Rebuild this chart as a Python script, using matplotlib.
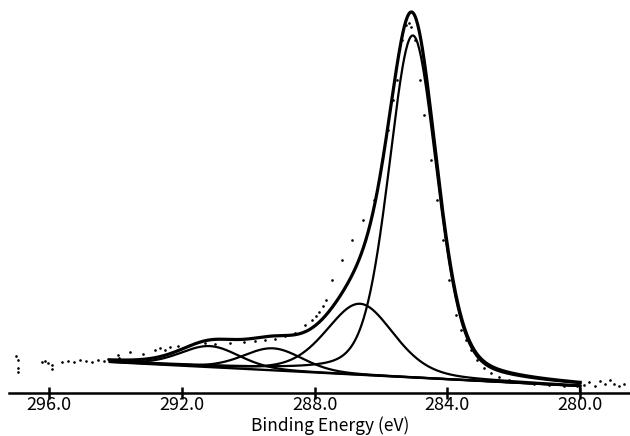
import numpy as np
import matplotlib.pyplot as plt

plt.rcParams['font.family'] = ['Noto Sans CJK SC', 'DejaVu Sans']

# === FITTED C1s COMPONENTS ===
peak_center = [285.04, 286.63, 289.25, 291.15]   # eV
peak_height = [342, 71, 22, 21]                  # above background, arb. units
peak_hwhm = [0.86, 1.20, 1.05, 1.05]             # eV
peak_lorentz = [0.30, 0.30, 0.20, 0.20]          # pseudo-Voigt mixing

# linear background end points
bg_energy = [294.16, 280.0]
bg_level = [31, 7]

# === MEASURED SPECTRUM (dots) ===
raw_energy = [296.98, 296.93, 296.92, 296.92, 296.21, 296.12, 296.03, 295.91, 295.91,
              295.61, 295.43, 295.25, 295.07, 294.89, 294.71, 294.53, 294.35, 294.23,
              293.92, 293.90, 293.56, 293.17, 292.81, 292.66, 292.51, 292.36, 292.12,
              291.76, 291.31, 291.01, 290.56, 290.11, 289.80, 289.50, 289.20, 288.90,
              288.60, 288.30, 288.09, 287.97, 287.85, 287.73, 287.64, 287.46, 287.16,
              286.86, 286.53, 286.20, 285.98, 285.80, 285.65, 285.53, 285.38, 285.26,
              285.14, 285.08, 284.96, 284.81, 284.69, 284.48, 284.30, 284.12, 283.94,
              283.73, 283.58, 283.43, 283.28, 283.10, 282.89, 282.68, 282.44, 282.14,
              281.83, 281.38, 280.93, 280.48, 280.09, 279.88, 279.73, 279.55, 279.40,
              279.25, 279.10, 278.98, 278.83, 278.68]
raw_counts = [37, 33, 25, 21, 31, 32, 30, 28, 24,
              31, 32, 31, 33, 32, 31, 33, 32, 34,
              38, 35, 41, 39, 43, 45, 43, 46, 47,
              48, 50, 49, 50, 51, 52, 53, 54, 57,
              60, 68, 73, 77, 81, 87, 93, 113, 133,
              153, 173, 193, 233, 263, 293, 313, 353, 368,
              370, 366, 353, 313, 278, 233, 193, 153, 113,
              78, 63, 53, 43, 33, 25, 20, 16, 13,
              11, 9, 8, 7, 7, 8, 11, 7, 12,
              9, 13, 9, 7, 9]

tick_values = [296.0, 292.0, 288.0, 284.0, 280.0]
tick_labels = ['296.0', '292.0', '288.0', '284.0', '280.0']


def pseudo_voigt(e, c, h, w, eta):
    u = ((e - c) / w) ** 2
    return h * (eta / (1 + u) + (1 - eta) * np.exp(-np.log(2) * u))


energy = np.linspace(bg_energy[0], bg_energy[1], 600)
background = np.interp(energy, bg_energy[::-1], bg_level[::-1])
components = [pseudo_voigt(energy, c, h, w, eta)
              for c, h, w, eta in zip(peak_center, peak_height, peak_hwhm, peak_lorentz)]
envelope = background + np.sum(components, axis=0)

fig = plt.figure(figsize=(6.3, 4.36), dpi=100)
ax = fig.add_axes([9 / 630, 43 / 436, 621 / 630, 393 / 436])

ax.plot(raw_energy, raw_counts, '.', color='black', markersize=1.8)
ax.plot(energy, background, color='black', lw=1.7)
for comp in components:
    ax.plot(energy, background + comp, color='black', lw=1.6)
ax.plot(energy, envelope, color='black', lw=2.3)
# short drop at the end of the fit range
ax.plot([bg_energy[1], bg_energy[1]], [0, bg_level[1]], color='black', lw=1.6)

ax.set_xlim(297.2, 278.5)
ax.set_ylim(0, 393)
for side in ['left', 'right', 'top']:
    ax.spines[side].set_visible(False)
ax.spines['bottom'].set_linewidth(1.8)
ax.set_yticks([])
ax.set_xticks(tick_values)
ax.set_xticklabels(tick_labels, fontsize=13)
ax.tick_params(axis='x', direction='inout', length=8, width=1.8, pad=-2)
ax.patch.set_alpha(0)

fig.text(330 / 630, 10 / 436, 'Binding Energy (eV)', fontsize=12.5,
         ha='center', va='center')

fig.savefig('out.png', dpi=100)
